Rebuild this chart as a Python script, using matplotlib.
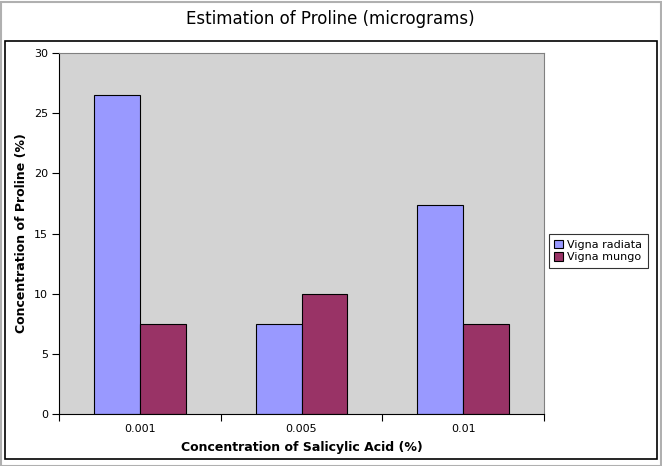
import matplotlib.pyplot as plt
import matplotlib.patches as mpatches
import numpy as np

categories = ['0.001', '0.005', '0.01']
vigna_radiata = [26.5, 7.5, 17.4]
vigna_mungo = [7.5, 10.0, 7.5]
series_names = ['Vigna radiata', 'Vigna mungo']

W, H = 662, 466
fig = plt.figure(figsize=(W / 100, H / 100), dpi=100)

# cadres exterieurs
fig.patches.append(mpatches.Rectangle((0.5 / W, 0.5 / H), (W - 2) / W, (H - 2) / H,
                                      transform=fig.transFigure, fill=False,
                                      edgecolor='#b0b0b0', linewidth=1.5))
fig.patches.append(mpatches.Rectangle((5 / W, (H - 459) / H), (657 - 5) / W, (459 - 41) / H,
                                      transform=fig.transFigure, fill=False,
                                      edgecolor='black', linewidth=1.2))

ax = fig.add_axes([59 / W, (H - 414) / H, 485 / W, 361 / H])
ax.set_facecolor('#d3d3d3')
for s in ax.spines.values():
    s.set_color('#808080')
ax.spines['left'].set_color('black')
ax.spines['bottom'].set_color('black')

x = np.arange(len(categories))
bw = 0.284
ax.bar(x - bw / 2, vigna_radiata, bw, color='#9999ff', edgecolor='black', linewidth=0.8,
       label=series_names[0])
ax.bar(x + bw / 2, vigna_mungo, bw, color='#993366', edgecolor='black', linewidth=0.8,
       label=series_names[1])

ax.set_xlim(-0.5, len(categories) - 0.5)
ax.set_ylim(0, 30)
ax.set_yticks(range(0, 31, 5))
ax.set_xticks(x)
ax.set_xticklabels(categories)
ax.set_xticks(np.arange(-0.5, len(categories)), minor=True)
ax.tick_params(axis='x', which='major', length=0, labelsize=8, pad=7)
ax.tick_params(axis='x', which='minor', length=5, width=0.8)
ax.tick_params(axis='y', length=5, width=0.8, labelsize=8, pad=3)

ax.set_xlabel('Concentration of Salicylic Acid (%)', fontsize=9, fontweight='bold', labelpad=5)
ax.set_ylabel('Concentration of Proline (%)', fontsize=9, fontweight='bold', labelpad=4.5)
fig.text(330 / W, (H - 19) / H, 'Estimation of Proline (micrograms)', fontsize=12,
         ha='center', va='center')

leg = fig.legend(loc='center left', bbox_to_anchor=(543 / W, (H - 251) / H),
                 fontsize=8, frameon=True, fancybox=False, handlelength=0.8,
                 handleheight=0.8, handletextpad=0.4, borderpad=0.5, labelspacing=0.2)
leg.get_frame().set_edgecolor('black')
leg.get_frame().set_linewidth(0.8)

fig.savefig('out.png', dpi=100)
